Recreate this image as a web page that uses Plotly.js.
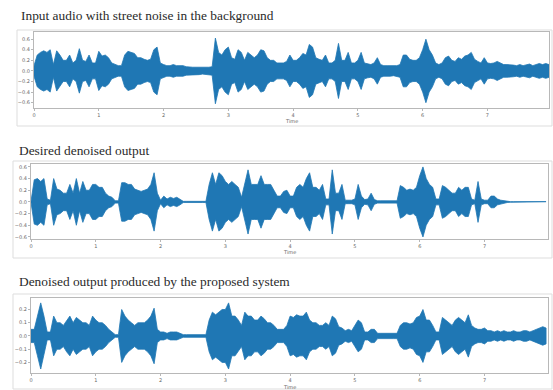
<!DOCTYPE html>
<html>
<head>
<meta charset="utf-8">
<script src="https://cdn.plot.ly/plotly-3.0.1.min.js"></script>
<style>html,body{margin:0;padding:0;background:#fff}#chart{width:553px;height:390px}</style>
</head>
<body>
<div id="chart"></div>
<script>
// Envelope amplitude of each waveform, one value per 0.05 s
const sampleStep = 0.05;
const titles = [
  "Input audio with street noise in the background",
  "Desired denoised output",
  "Denoised output produced by the proposed system"
];
const xTickVals = [0,1,2,3,4,5,6,7];
const yTicks1 = [-0.6,-0.4,-0.2,0.0,0.2,0.4,0.6];
const yTicks2 = [-0.6,-0.4,-0.2,0.0,0.2,0.4,0.6];
const yTicks3 = [-0.2,-0.1,0.0,0.1,0.2];
const xAxisLabel = "Time";

const inputAudio = [
  0.1,0.3,0.35,0.38,0.35,0.4,0.12,0.38,0.3,0.2, 0.2,0.3,0.15,0.2,0.42,0.2,0.18,0.3,0.15,0.15,
  0.37,0.28,0.3,0.25,0.15,0.12,0.1,0.1,0.3,0.37, 0.35,0.33,0.25,0.25,0.22,0.2,0.22,0.4,0.45,0.15,
  0.12,0.1,0.1,0.12,0.1,0.1,0.1,0.08,0.07,0.07, 0.07,0.07,0.06,0.07,0.07,0.08,0.62,0.35,0.3,0.4,
  0.45,0.25,0.22,0.4,0.35,0.2,0.35,0.3,0.25,0.3, 0.4,0.38,0.25,0.2,0.2,0.15,0.15,0.15,0.18,0.3,
  0.2,0.2,0.25,0.33,0.3,0.5,0.45,0.25,0.22,0.2, 0.3,0.15,0.15,0.2,0.52,0.2,0.2,0.35,0.15,0.15,
  0.2,0.35,0.15,0.13,0.12,0.15,0.25,0.12,0.1,0.1, 0.1,0.09,0.1,0.12,0.3,0.3,0.22,0.2,0.2,0.25,
  0.4,0.6,0.4,0.3,0.15,0.12,0.15,0.25,0.28,0.2, 0.18,0.25,0.22,0.28,0.3,0.35,0.22,0.18,0.15,0.25,
  0.15,0.14,0.15,0.18,0.15,0.12,0.12,0.12,0.11,0.1, 0.12,0.1,0.12,0.13,0.1,0.12,0.14,0.12,0.14,0.12
];
const desiredOutput = [
  0.01,0.38,0.4,0.35,0.4,0.05,0.03,0.4,0.22,0.2, 0.15,0.15,0.3,0.15,0.4,0.15,0.35,0.2,0.2,0.3,
  0.3,0.25,0.25,0.15,0.1,0.08,0.02,0.02,0.33,0.33, 0.3,0.3,0.22,0.2,0.18,0.2,0.22,0.3,0.5,0.15,
  0.03,0.1,0.05,0.08,0.06,0.08,0.05,0.01,0.01,0.01, 0.01,0.01,0.01,0.01,0.01,0.3,0.5,0.3,0.5,0.45,
  0.35,0.3,0.35,0.3,0.25,0.08,0.3,0.55,0.3,0.3, 0.3,0.45,0.3,0.3,0.3,0.2,0.1,0.1,0.18,0.2,
  0.1,0.1,0.25,0.3,0.25,0.4,0.5,0.25,0.25,0.2, 0.3,0.05,0.05,0.55,0.15,0.15,0.3,0.03,0.03,0.03,
  0.05,0.3,0.1,0.04,0.05,0.15,0.04,0.02,0.02,0.02, 0.02,0.02,0.02,0.02,0.28,0.25,0.2,0.22,0.2,0.25,
  0.45,0.6,0.4,0.3,0.25,0.05,0.05,0.28,0.25,0.2, 0.15,0.15,0.25,0.2,0.25,0.25,0.05,0.03,0.35,0.05,
  0.03,0.03,0.1,0.1,0.05,0.03,0.02,0.01,0.005,0.005, 0.005,0.005,0.005,0.005,0.005,0.005,0.005,0.005,0.005,0.005
];
const proposedOutput = [
  0.05,0.05,0.15,0.25,0.15,0.03,0.03,0.15,0.1,0.1, 0.08,0.12,0.15,0.1,0.14,0.12,0.1,0.1,0.08,0.15,
  0.12,0.1,0.1,0.08,0.05,0.03,0.01,0.01,0.2,0.15, 0.12,0.1,0.08,0.1,0.1,0.1,0.12,0.15,0.21,0.05,
  0.03,0.03,0.02,0.03,0.03,0.03,0.02,0.01,0.01,0.01, 0.01,0.01,0.01,0.01,0.01,0.12,0.18,0.16,0.18,0.2,
  0.2,0.25,0.15,0.15,0.12,0.08,0.18,0.15,0.15,0.12, 0.12,0.15,0.13,0.1,0.1,0.08,0.05,0.05,0.05,0.08,
  0.15,0.14,0.16,0.15,0.15,0.18,0.12,0.1,0.1,0.08, 0.08,0.1,0.08,0.15,0.13,0.07,0.06,0.04,0.05,0.04,
  0.08,0.12,0.1,0.03,0.03,0.05,0.05,0.02,0.02,0.02, 0.02,0.02,0.02,0.02,0.08,0.1,0.1,0.09,0.1,0.14,
  0.15,0.2,0.12,0.12,0.08,0.03,0.03,0.14,0.12,0.1, 0.08,0.12,0.14,0.12,0.1,0.16,0.08,0.06,0.05,0.05,
  0.06,0.04,0.04,0.03,0.04,0.03,0.04,0.03,0.03,0.04, 0.03,0.03,0.04,0.04,0.03,0.04,0.05,0.06,0.07,0.06
];

const W = 553, H = 390;
const fx = x => x / W;
const fy = y => 1 - y / H;
const blue = "#1f77b4";

function waveTrace(env, axisIdx) {
  const t = env.map((_, i) => i * sampleStep);
  const xs = t.concat(t.slice().reverse());
  const ys = env.concat(env.slice().reverse().map(v => -v));
  const sfx = axisIdx === 1 ? "" : String(axisIdx);
  return {
    type: "scatter", mode: "lines", x: xs, y: ys, fill: "toself",
    fillcolor: blue, line: {color: blue, width: 0.8},
    xaxis: "x" + sfx, yaxis: "y" + sfx, hoverinfo: "skip", showlegend: false
  };
}

const panels = [
  {env: inputAudio, left: 34, right: 549, top: 32, bottom: 108, yr: [-0.70, 0.735], yt: yTicks1, xmax: 7.95,
   frame: [17, 30, 552, 126], titleX: 19, titleY: 16, labelY: 121},
  {env: desiredOutput, left: 31, right: 548, top: 164, bottom: 239, yr: [-0.635, 0.65], yt: yTicks2, xmax: 7.98,
   frame: [13, 161, 552, 258], titleX: 17, titleY: 150, labelY: 252},
  {env: proposedOutput, left: 31, right: 548, top: 298, bottom: 373, yr: [-0.28, 0.287], yt: yTicks3, xmax: 7.98,
   frame: [13, 294, 552, 389], titleX: 17, titleY: 281, labelY: 386.5}
];

const data = [];
const layout = {
  width: W, height: H, margin: {l: 0, r: 0, t: 0, b: 0},
  paper_bgcolor: "#fff", plot_bgcolor: "#fff", showlegend: false,
  annotations: [], shapes: []
};

panels.forEach((p, k) => {
  const idx = k + 1;
  const sfx = idx === 1 ? "" : String(idx);
  data.push(waveTrace(p.env, idx));
  const axCommon = {
    showline: true, mirror: true, linecolor: "#b8b8b8", linewidth: 1,
    showgrid: false, zeroline: false, ticks: "outside", ticklen: 2, tickcolor: "#b8b8b8",
    tickfont: {family: "DejaVu Sans, sans-serif", size: 5, color: "#666"}, fixedrange: true
  };
  layout["xaxis" + sfx] = Object.assign({}, axCommon, {
    domain: [fx(p.left), fx(p.right)], range: [0, p.xmax],
    tickvals: xTickVals, ticktext: xTickVals.map(String), anchor: "y" + sfx
  });
  layout["yaxis" + sfx] = Object.assign({}, axCommon, {
    domain: [fy(p.bottom), fy(p.top)], range: p.yr,
    tickvals: p.yt, ticktext: p.yt.map(v => (v < 0 ? "\u2212" : "") + Math.abs(v).toFixed(1)),
    anchor: "x" + sfx
  });
  layout.shapes.push({
    type: "rect", xref: "paper", yref: "paper", layer: "below",
    x0: fx(p.frame[0]), x1: fx(p.frame[2]), y0: fy(p.frame[3]), y1: fy(p.frame[1]),
    line: {color: "#dddddd", width: 1}, fillcolor: "rgba(0,0,0,0)"
  });
  layout.annotations.push({
    text: titles[k], xref: "paper", yref: "paper", x: fx(p.titleX), y: fy(p.titleY),
    xanchor: "left", yanchor: "middle", showarrow: false,
    font: {family: "Liberation Serif, serif", size: 13.4, color: "#2a2a2a"}
  });
  layout.annotations.push({
    text: xAxisLabel, xref: "paper", yref: "paper", x: fx((p.left + p.right) / 2), y: fy(p.labelY),
    xanchor: "center", yanchor: "middle", showarrow: false,
    font: {family: "DejaVu Sans, sans-serif", size: 5, color: "#666"}
  });
});

Plotly.newPlot("chart", data, layout, {displayModeBar: false, staticPlot: true});
</script>
</body>
</html>
